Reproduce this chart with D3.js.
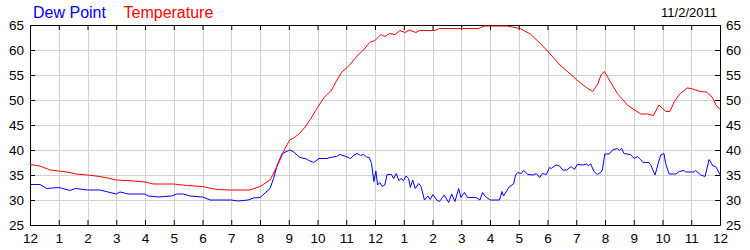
<!DOCTYPE html>
<html>
<head>
<meta charset="utf-8">
<script src="https://cdn.jsdelivr.net/npm/d3@7"></script>
<style>
  body { margin: 0; background: #fff; }
  text { font-family: "Liberation Sans", Arial, sans-serif; }
</style>
</head>
<body>
<div id="chart"></div>
<script>
// hours since midnight
const tempHours = [0,0.35,0.7,1,1.39,1.6,2,2.43,2.78,3,3.6,4,4.29,5,5.45,6,6.5,7,7.65,8,8.35,8.6,8.87,9.03,9.2,9.39,9.6,9.78,10,10.23,10.49,10.65,10.83,11.1,11.41,11.6,11.81,12,12.2,12.35,12.5,12.7,12.86,13.04,13.2,13.42,13.55,14.08,14.25,15.6,15.8,16.6,17.05,17.4,17.75,18,18.23,18.43,18.66,19,19.35,19.57,19.75,19.86,19.98,20.15,20.43,20.78,21,21.25,21.48,21.68,21.88,22,22.12,22.26,22.41,22.6,22.86,23,23.3,23.53,23.74,23.86,24];
const tempValues = [37.1,36.8,36,35.8,35.5,35.2,35,34.7,34.3,34,33.8,33.6,33.2,33.2,32.9,32.7,32.1,32,32,32.7,34,36.8,40.3,42,42.5,43.4,44.8,46.4,48.5,50.5,52,53.7,55.5,56.9,59,60,61.5,61.9,63.1,62.7,63.3,63.1,63.9,63.5,64,63.5,63.9,63.9,64.3,64.3,64.8,64.8,64.3,63.2,61.3,59.8,58.3,57,55.9,54.1,52.5,51.7,53.2,55,55.7,54,51.3,49,48.1,47.2,47.2,46.9,49,48.3,47.7,47.7,49.7,51.2,52.4,52.3,51.7,51.6,50.5,49,48.1];

const dewHours = [0,0.35,0.58,1,1.4,1.57,2,2.43,3,3.13,3.42,4,4.12,4.47,4.93,5.1,5.33,5.57,6,6.27,7,7.24,7.59,7.77,8,8.35,8.47,8.6,8.77,9.03,9.15,9.39,9.62,9.7,9.87,10.05,10.33,10.43,10.66,10.78,10.95,11.15,11.27,11.38,11.5,11.6,11.71,11.8,11.88,11.96,12.03,12.09,12.17,12.25,12.34,12.42,12.57,12.65,12.74,12.83,12.91,12.99,13.08,13.17,13.23,13.31,13.4,13.52,13.6,13.72,13.84,13.92,14.01,14.15,14.24,14.41,14.56,14.67,14.78,14.91,14.99,15.11,15.22,15.51,15.65,15.74,15.84,16.01,16.33,16.42,16.47,16.68,16.82,16.89,16.97,17.09,17.17,17.32,17.5,17.61,17.73,17.82,17.96,18.07,18.13,18.3,18.42,18.53,18.67,18.82,18.94,19.03,19.24,19.36,19.42,19.5,19.62,19.73,19.85,19.91,19.99,20.14,20.26,20.43,20.51,20.58,20.66,20.89,21.01,21.13,21.24,21.32,21.53,21.61,21.74,21.85,21.94,22.05,22.11,22.23,22.46,22.58,22.75,22.81,23.1,23.15,23.33,23.48,23.62,23.76,23.85,24];
const dewValues = [33.1,33.1,32.3,32.5,31.9,32.3,32,32,31.2,31.6,31.2,31.2,30.8,30.6,30.8,31.2,31.2,30.8,30.6,30,30,29.8,30,30.4,30.5,32.3,34.3,37,39.3,40,39.7,38.5,38.2,37.9,37.5,38.3,38.3,38.5,38.7,39.1,38.8,38.3,39,39.3,38.9,39.1,38.6,38.5,37.3,33.7,35.8,33,33.5,32.7,33,35.1,35.1,34.3,35.3,33.9,34.3,33.9,34.8,34.3,32.5,34,32.3,33.3,32.7,30,30.8,30.1,31.1,30,29.7,31,29.5,31.2,29.7,32.3,30.5,31.5,30.5,30.5,30,31.5,30.7,30,30,31.7,30.8,32.7,33.2,35,35.5,35.3,35.9,35.1,35,35.3,34.5,35.3,35.1,36.5,36.3,37,36.8,36,36,36.7,36.1,37.1,37,37.2,36.9,37.2,35.7,35.1,35.5,36,39.2,39.2,40,40.3,39.9,40.3,39.3,39.1,38.3,38.7,38.1,37.5,37.5,36.8,35,37.3,39,39.3,37.3,35.2,35.2,35.7,35.9,35.6,35.6,35.9,35,34.7,38.1,36.8,36.7,35.1];

const hourTicks = d3.range(0, 25);
const hourLabels = ["12","1","2","3","4","5","6","7","8","9","10","11","12","1","2","3","4","5","6","7","8","9","10","11","12"];
const yTicks = [25,30,35,40,45,50,55,60,65];
const legendNames = ["Dew Point", "Temperature"];
const legendColors = ["#0000ff", "#ff0000"];
const dateLabel = "11/2/2011";

const W = 750, H = 250;
const margin = {top: 25, right: 30, bottom: 25, left: 30};
const width = W - margin.left - margin.right;
const height = H - margin.top - margin.bottom;

const svg = d3.select("#chart").append("svg")
    .attr("width", W)
    .attr("height", H);

const g = svg.append("g")
    .attr("transform", `translate(${margin.left},${margin.top})`);

const x = d3.scaleLinear().domain([0, 24]).range([0, width]);
const y = d3.scaleLinear().domain([25, 65]).range([height, 0]);

// grid
g.append("g").selectAll("line.vgrid")
    .data(hourTicks.slice(1, -1))
    .enter().append("line")
    .attr("x1", d => Math.round(x(d)) + 0.5).attr("x2", d => Math.round(x(d)) + 0.5)
    .attr("y1", 0).attr("y2", height)
    .attr("stroke", "#d0d0d0");

g.append("g").selectAll("line.hgrid")
    .data(yTicks.slice(1, -1))
    .enter().append("line")
    .attr("y1", d => Math.round(y(d)) + 0.5).attr("y2", d => Math.round(y(d)) + 0.5)
    .attr("x1", 0).attr("x2", width)
    .attr("stroke", "#d0d0d0");

// axes, ticks pointing inward
const fmtHour = (d, i) => hourLabels[i];

const styleAxis = sel => {
    sel.selectAll("path").attr("stroke", "#000");
    sel.selectAll("line").attr("stroke", "#000");
    sel.selectAll("text").attr("fill", "#000").style("font-size", "13.5px");
};

g.append("g")
    .attr("transform", `translate(0,${height})`)
    .call(d3.axisBottom(x).tickValues(hourTicks).tickFormat(fmtHour).tickSize(-5).tickSizeOuter(0).tickPadding(8))
    .call(styleAxis);

g.append("g")
    .call(d3.axisTop(x).tickValues(hourTicks).tickFormat("").tickSize(-5).tickSizeOuter(0))
    .call(styleAxis);

g.append("g")
    .call(d3.axisLeft(y).tickValues(yTicks).tickSize(-5).tickSizeOuter(0).tickPadding(6))
    .call(styleAxis);

g.append("g")
    .attr("transform", `translate(${width},0)`)
    .call(d3.axisRight(y).tickValues(yTicks).tickSize(-5).tickSizeOuter(0).tickPadding(6))
    .call(styleAxis);

g.selectAll(".domain").attr("fill", "none");

// series
const line = d3.line()
    .x(d => x(d[0]))
    .y(d => y(d[1]));

g.append("path")
    .datum(dewHours.map((h, i) => [h, dewValues[i]]))
    .attr("d", line)
    .attr("fill", "none")
    .attr("stroke", legendColors[0])
    .attr("stroke-width", 1);

g.append("path")
    .datum(tempHours.map((h, i) => [h, tempValues[i]]))
    .attr("d", line)
    .attr("fill", "none")
    .attr("stroke", legendColors[1])
    .attr("stroke-width", 1);

// legend + date
const legendX = [33, 123.5];
svg.selectAll("text.legend")
    .data(legendNames)
    .enter().append("text")
    .attr("class", "legend")
    .attr("x", (d, i) => legendX[i])
    .attr("y", 18)
    .attr("fill", (d, i) => legendColors[i])
    .style("font-size", "16px")
    .text(d => d);

svg.append("text")
    .attr("x", 717)
    .attr("y", 17)
    .attr("text-anchor", "end")
    .attr("fill", "#000")
    .style("font-size", "13px")
    .text(dateLabel);
</script>
</body>
</html>
